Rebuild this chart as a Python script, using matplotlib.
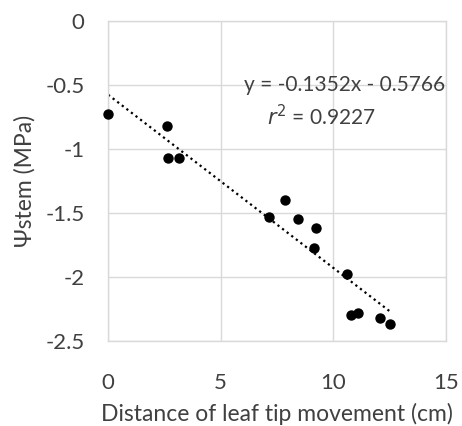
import numpy as np
import matplotlib.pyplot as plt

# leaf tip movement (cm) vs stem water potential (MPa)
distance = [0.0, 2.61, 2.64, 3.17, 7.16, 7.87, 8.44, 9.23, 9.13, 10.61, 10.79, 11.08, 12.09, 12.53]
psi_stem = [-0.73, -0.82, -1.07, -1.07, -1.53, -1.40, -1.55, -1.62, -1.77, -1.98, -2.30, -2.28, -2.32, -2.37]

slope, intercept = -0.1352, -0.5766
xticks = [0, 5, 10, 15]
yticks = [0, -0.5, -1, -1.5, -2, -2.5]

TXT = "#404040"
GRID = "#d9d9d9"

plt.rcParams['font.family'] = ['Lato', 'DejaVu Sans']

fig = plt.figure(figsize=(4.62, 4.26), dpi=100)
ax = fig.add_axes([0.234, 0.1995, 0.731, 0.7515])

ax.set_xlim(0, 15)
ax.set_ylim(-2.5, 0)
ax.set_xticks(xticks)
ax.set_yticks(yticks)
ax.set_yticklabels([f"{v:g}" for v in yticks])
ax.grid(True, color=GRID, linewidth=1)
ax.set_axisbelow(True)
for s in ax.spines.values():
    s.set_color(GRID)
    s.set_linewidth(1)
ax.tick_params(length=0, labelsize=16, colors=TXT)
ax.tick_params(axis='x', pad=23)
ax.tick_params(axis='y', pad=17)

xs = np.array([min(distance), max(distance)])
ax.plot(xs, slope * xs + intercept, color="black", linestyle=(0, (1, 1.6)), linewidth=1.6)
ax.scatter(distance, psi_stem, s=42, color="black", zorder=3, clip_on=False)

ax.text(10.49, -0.5, "y = -0.1352x - 0.5766", ha="center", va="center", fontsize=15, color=TXT)
ax.text(9.47, -0.75, "$\\it{r}^2$ = 0.9227", ha="center", va="center", fontsize=15, color=TXT)

ax.set_xlabel("Distance of leaf tip movement (cm)", fontsize=16.5, color=TXT, labelpad=7)
ax.set_ylabel("Ψstem (MPa)", fontsize=16.5, color=TXT, labelpad=7)

fig.savefig("out.png", dpi=100)
